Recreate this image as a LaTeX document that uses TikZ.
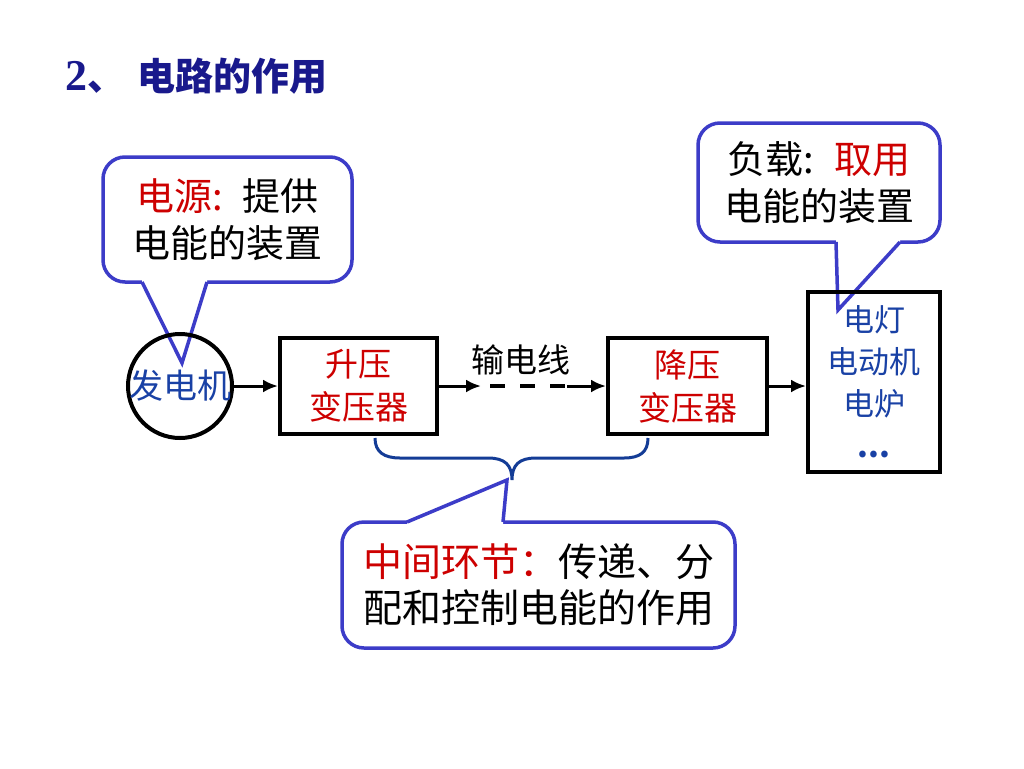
\documentclass[tikz,border=0pt]{standalone}
\usepackage{fontspec}
\setmainfont{Noto Sans CJK SC}
\newfontfamily\latin{Liberation Serif}
\usetikzlibrary{arrows.meta}
\definecolor{callblue}{RGB}{60,60,200}
\definecolor{titleblue}{RGB}{25,25,140}
\definecolor{txtblue}{RGB}{25,65,165}
\definecolor{txtred}{RGB}{205,0,0}
\definecolor{bracecol}{RGB}{20,60,150}

\begin{document}
\begin{tikzpicture}[x=1pt,y=-1pt,
  callout/.style={rectangle, rounded corners=22pt, draw=callblue, line width=3.5pt, fill=white, inner sep=0pt, align=center, font=\fontsize{38}{47}\selectfont},
  block/.style={rectangle, draw, line width=4pt, inner sep=0pt, align=center, font=\fontsize{33}{43}\selectfont},
  conn/.style={line width=3pt, -{Latex[length=15pt,width=13pt]}},
  pointer/.style={draw=callblue, line width=3.5pt, line join=miter},]
  \fill[white] (0,0) rectangle (1024,768);
  \useasboundingbox (0,0) rectangle (1024,768);
  % title
  \node[anchor=west, text=titleblue, font=\fontsize{38}{40}\selectfont\bfseries] (title) at (62,76) {{\latin\fontsize{44}{44}\selectfont 2}、\hspace{12pt}电路的作用};
  % callouts
  \node[callout, minimum width=249pt, minimum height=125pt] (source) at (227.5,219.5) {\textcolor{txtred}{电源:}\hspace{20pt}提供\\电能的装置};
  \node[callout, minimum width=242pt, minimum height=119pt] (load) at (819,182.5) {负载:\hspace{20pt}\textcolor{txtred}{取用}\\电能的装置};
  \node[callout, minimum width=393pt, minimum height=126pt, font=\fontsize{39}{46}\selectfont] (middle) at (538.5,585) {\textcolor{txtred}{中间环节：}传递、分\\配和控制电能的作用};
  \coordinate (sourcetip) at (182,363);
  \coordinate (loadtip) at (838,310);
  \coordinate (middletip) at (507,480);
  \fill[white] (142,279) -- (142,282) -- (sourcetip) -- (207,282) -- (207,279) -- cycle;
  \draw[pointer] (142,282) -- (sourcetip) -- (207,282);
  \fill[white] (836,239) -- (836,242) -- (loadtip) -- (900,242) -- (900,239) -- cycle;
  \draw[pointer] (836,242) -- (loadtip) -- (900,242);
  \fill[white] (407,525) -- (407,522) -- (middletip) -- (503,522) -- (503,525) -- cycle;
  \draw[pointer] (407,522) -- (middletip) -- (503,522);
  % chain
  \node[circle, draw, line width=4pt, minimum size=104pt, inner sep=0pt, text=txtblue, font=\fontsize{34}{40}\selectfont] (gen) at (180,386) {\makebox[0pt]{发电机}};
  \node[block, minimum width=157pt, minimum height=96pt, text=txtred] (stepup) at (358.5,386) {升压\\变压器};
  \node[block, minimum width=159pt, minimum height=96pt, text=txtred] (stepdown) at (687.5,386) {降压\\变压器};
  \node[block, minimum width=132pt, minimum height=180pt, text=txtblue, font=\fontsize{31}{42}\selectfont] (devices) at (874,382) {电灯\\电动机\\电炉\\\textbf{...}};
  \node[font=\fontsize{33}{40}\selectfont] (wire) at (521,360) {输电线};
  \coordinate (wirea) at (481,386);
  \coordinate (wireb) at (490,386);
  \coordinate (wirec) at (567,386);
  \draw[conn] (gen) -- (stepup);
  \draw[conn] (stepup) -- (wirea);
  \draw[line width=4.5pt, dash pattern=on 15pt off 15pt] (wireb) -- (wirec);
  \draw[conn] (wirec) -- (stepdown);
  \draw[conn] (stepdown.east) -- (stepdown.east -| devices.west);
  % brace
  \draw[bracecol, line width=3pt] (375,438) .. controls (375,452) and (384,458) .. (400,458) -- (488,458)
    .. controls (505,458) and (512,465) .. (512,480) .. controls (512,465) and (519,458) .. (536,458)
    -- (624,458) .. controls (640,458) and (648,452) .. (648,438);
\end{tikzpicture}
\end{document}
